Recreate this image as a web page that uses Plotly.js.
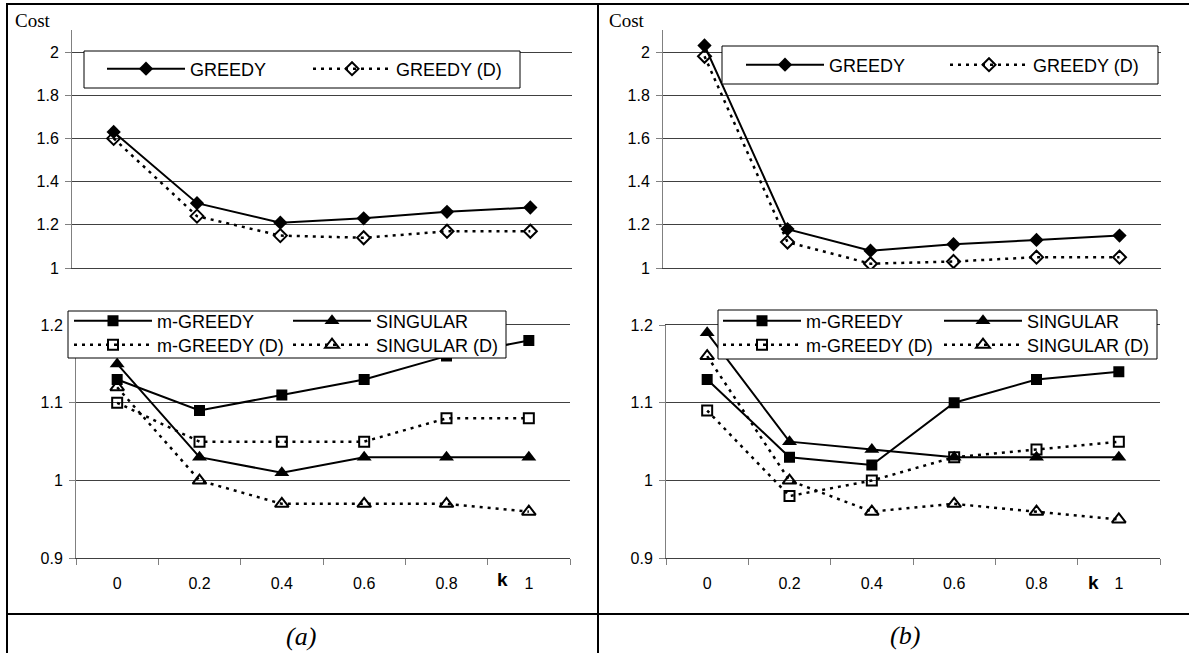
<!DOCTYPE html>
<html>
<head>
<meta charset="utf-8">
<script src="https://cdn.plot.ly/plotly-3.0.1.min.js"></script>
<style>
  html, body { margin: 0; padding: 0; background: #ffffff; }
  #chart { width: 1189px; height: 653px; }
</style>
</head>
<body>
<div id="chart"></div>
<script>
// ---------------- data ----------------
const kLabels = ['0', '0.2', '0.4', '0.6', '0.8', '1'];

const upperTicks = [1, 1.2, 1.4, 1.6, 1.8, 2];
const upperTickText = ['1', '1.2', '1.4', '1.6', '1.8', '2'];
const lowerTicks = [0.9, 1.0, 1.1, 1.2];
const lowerTickText = ['0.9', '1', '1.1', '1.2'];

// panel (a)
const aGreedy    = [1.63, 1.30, 1.21, 1.23, 1.26, 1.28];
const aGreedyD   = [1.60, 1.24, 1.15, 1.14, 1.17, 1.17];
const aMGreedy   = [1.13, 1.09, 1.11, 1.13, 1.16, 1.18];
const aMGreedyD  = [1.10, 1.05, 1.05, 1.05, 1.08, 1.08];
const aSingular  = [1.15, 1.03, 1.01, 1.03, 1.03, 1.03];
const aSingularD = [1.12, 1.00, 0.97, 0.97, 0.97, 0.96];

// panel (b)
const bGreedy    = [2.03, 1.18, 1.08, 1.11, 1.13, 1.15];
const bGreedyD   = [1.98, 1.12, 1.02, 1.03, 1.05, 1.05];
const bMGreedy   = [1.13, 1.03, 1.02, 1.10, 1.13, 1.14];
const bMGreedyD  = [1.09, 0.98, 1.00, 1.03, 1.04, 1.05];
const bSingular  = [1.19, 1.05, 1.04, 1.03, 1.03, 1.03];
const bSingularD = [1.16, 1.00, 0.96, 0.97, 0.96, 0.95];

// ---------------- helpers ----------------
const W = 1189, H = 653;
const px = v => v / W;          // pixel x -> paper
const py = v => 1 - v / H;      // pixel y -> paper

const FONT = 'Arial, "Liberation Sans", sans-serif';
const SERIF = '"Liberation Serif", "Times New Roman", serif';
const GRID = '#404040';
const AXIS = '#808080';
const DOT = '3px,5px';

function solid(symbol, size) {
  return { mode: 'lines+markers', line: { color: '#000', width: 2 },
           marker: { symbol: symbol, size: size, color: '#000', line: { width: 0 } } };
}
function dotted(symbol, size) {
  return { mode: 'lines+markers', line: { color: '#000', width: 2.5, dash: DOT },
           marker: { symbol: symbol, size: size, color: '#000', line: { color: '#000', width: 2 } } };
}
function tr(base, name, y, xa, ya, legend, group) {
  return Object.assign({}, base, {
    type: 'scatter', name: name, x: kLabels, y: y,
    xaxis: xa, yaxis: ya, legend: legend, legendgroup: group, hoverinfo: 'skip'
  });
}

const data = [
  // (a) upper
  tr(solid('diamond', 11), 'GREEDY', aGreedy, 'x', 'y', 'legend', 'g'),
  tr(dotted('diamond-open', 10), 'GREEDY (D)', aGreedyD, 'x', 'y', 'legend', 'gd'),
  // (a) lower
  tr(solid('square', 11), 'm-GREEDY', aMGreedy, 'x2', 'y2', 'legend3', 'm'),
  tr(solid('triangle-up', 13), 'SINGULAR', aSingular, 'x2', 'y2', 'legend3', 's'),
  tr(dotted('square-open', 10), 'm-GREEDY (D)', aMGreedyD, 'x2', 'y2', 'legend4', 'md'),
  tr(dotted('triangle-up-open', 12), 'SINGULAR (D)', aSingularD, 'x2', 'y2', 'legend4', 'sd'),
  // (b) upper
  tr(solid('diamond', 11), 'GREEDY', bGreedy, 'x3', 'y3', 'legend2', 'g'),
  tr(dotted('diamond-open', 10), 'GREEDY (D)', bGreedyD, 'x3', 'y3', 'legend2', 'gd'),
  // (b) lower
  tr(solid('square', 11), 'm-GREEDY', bMGreedy, 'x4', 'y4', 'legend5', 'm'),
  tr(solid('triangle-up', 13), 'SINGULAR', bSingular, 'x4', 'y4', 'legend5', 's'),
  tr(dotted('square-open', 10), 'm-GREEDY (D)', bMGreedyD, 'x4', 'y4', 'legend6', 'md'),
  tr(dotted('triangle-up-open', 12), 'SINGULAR (D)', bSingularD, 'x4', 'y4', 'legend6', 'sd')
];

function upperX(x0, x1, anchor) {
  return { domain: [px(x0), px(x1)], anchor: anchor, type: 'category',
           range: [-0.5, 5.5], showline: true, linecolor: GRID, linewidth: 1,
           showgrid: false, zeroline: false, ticks: '', showticklabels: false, fixedrange: true };
}
function lowerX(x0, x1, anchor) {
  return { domain: [px(x0), px(x1)], anchor: anchor, type: 'category',
           range: [-0.5, 5.5], showline: true, mirror: true, linecolor: GRID, linewidth: 1,
           showgrid: false, zeroline: false, ticks: 'outside', tickson: 'boundaries',
           ticklen: 6, tickcolor: AXIS, tickwidth: 1, ticklabelstandoff: 10,
           tickfont: { family: FONT, size: 16, color: '#000' }, fixedrange: true };
}
function upperY(anchor) {
  return { domain: [py(268), py(30.4)], anchor: anchor, range: [1, 2.1],
           tickmode: 'array', tickvals: upperTicks, ticktext: upperTickText,
           showgrid: true, gridcolor: GRID, gridwidth: 1, zeroline: false,
           showline: true, linecolor: AXIS, linewidth: 1,
           ticks: 'outside', ticklen: 6, tickcolor: AXIS, ticklabelstandoff: 3,
           tickfont: { family: FONT, size: 16, color: '#000' }, fixedrange: true };
}
function lowerY(anchor) {
  return { domain: [py(558.3), py(325)], anchor: anchor, range: [0.9, 1.2],
           tickmode: 'array', tickvals: lowerTicks, ticktext: lowerTickText,
           showgrid: true, gridcolor: GRID, gridwidth: 1, zeroline: false,
           showline: true, linecolor: AXIS, linewidth: 1,
           ticks: 'outside', ticklen: 6, tickcolor: AXIS, ticklabelstandoff: 3,
           tickfont: { family: FONT, size: 16, color: '#000' }, fixedrange: true };
}
function leg(xLeft, yMid, ew) {
  return { x: px(xLeft), xanchor: 'left', y: py(yMid), yanchor: 'middle',
           orientation: 'h', itemwidth: 78, entrywidth: ew, entrywidthmode: 'pixels',
           bgcolor: 'rgba(0,0,0,0)', borderwidth: 0, traceorder: 'normal',
           font: { family: FONT, size: 18, color: '#000' },
           itemclick: false, itemdoubleclick: false };
}
function box(x0, y0, x1, y1) {
  return { type: 'rect', xref: 'paper', yref: 'paper', layer: 'above',
           x0: px(x0), x1: px(x1), y0: py(y1), y1: py(y0),
           fillcolor: '#ffffff', line: { color: '#000', width: 1 } };
}
function rule(x0, y0, x1, y1) {
  return { type: 'line', xref: 'paper', yref: 'paper', layer: 'above',
           x0: px(x0), x1: px(x1), y0: py(y0), y1: py(y1),
           line: { color: '#000', width: 2 } };
}
function note(text, x, y, font) {
  return { text: text, xref: 'paper', yref: 'paper', x: px(x), y: py(y),
           xanchor: 'center', yanchor: 'middle', showarrow: false, font: font };
}

const layout = {
  width: W, height: H,
  margin: { l: 0, r: 0, t: 0, b: 0, pad: 0 },
  paper_bgcolor: '#ffffff', plot_bgcolor: '#ffffff',
  showlegend: true,
  font: { family: FONT, color: '#000' },
  xaxis:  upperX(72, 572, 'y'),
  yaxis:  upperY('x'),
  xaxis2: lowerX(76, 570, 'y2'),
  yaxis2: lowerY('x2'),
  xaxis3: upperX(663, 1161, 'y3'),
  yaxis3: upperY('x3'),
  xaxis4: lowerX(666, 1160, 'y4'),
  yaxis4: lowerY('x4'),
  legend:  leg(102, 69, 113),
  legend2: leg(741, 65, 111),
  legend3: leg(69, 321, 126),
  legend4: leg(69, 345, 126),
  legend5: leg(718, 321, 128),
  legend6: leg(718, 345, 128),
  shapes: [
    box(84, 51, 520, 88),
    box(722, 46, 1158, 84),
    box(68, 311, 506, 358),
    box(718, 310, 1157, 359),
    rule(6, 4, 1189, 4),
    rule(7, 4, 7, 653),
    rule(598, 4, 598, 653),
    rule(7, 614, 1189, 614)
  ],
  annotations: [
    note('Cost', 33, 20, { family: SERIF, size: 19, color: '#000' }),
    note('Cost', 627, 20, { family: SERIF, size: 19, color: '#000' }),
    note('<b>k</b>', 502, 579, { family: FONT, size: 19, color: '#000' }),
    note('<b>k</b>', 1093, 582, { family: FONT, size: 19, color: '#000' }),
    note('<i>(a)</i>', 301, 636, { family: SERIF, size: 26, color: '#000' }),
    note('<i>(b)</i>', 905, 635, { family: SERIF, size: 26, color: '#000' })
  ]
};

Plotly.newPlot('chart', data, layout, { displayModeBar: false, responsive: false });
</script>
</body>
</html>
